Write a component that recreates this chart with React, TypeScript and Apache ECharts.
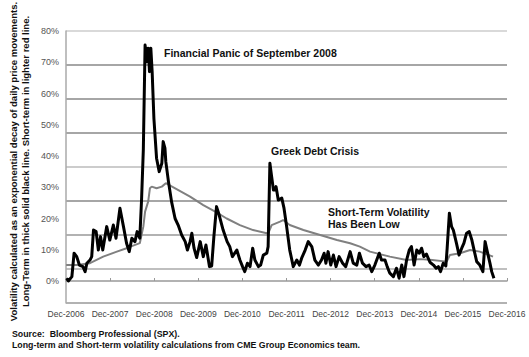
import React, { useEffect, useRef } from "react";
import * as echarts from "echarts";

// Short-term volatility (thick black line): decimal years, percent
const shortTermYears = [
  2006.93, 2006.97, 2007.05, 2007.10, 2007.16, 2007.22, 2007.30, 2007.35, 2007.39, 2007.46,
  2007.50, 2007.54, 2007.60, 2007.65, 2007.70, 2007.75, 2007.84, 2007.91, 2007.99, 2008.05,
  2008.14, 2008.22, 2008.29, 2008.35, 2008.41, 2008.48, 2008.53, 2008.59, 2008.63, 2008.67,
  2008.71, 2008.75, 2008.78, 2008.81, 2008.84, 2008.87, 2008.91, 2008.97, 2009.03, 2009.09,
  2009.12, 2009.16, 2009.18, 2009.24, 2009.31, 2009.39, 2009.46, 2009.54, 2009.62, 2009.67,
  2009.73, 2009.77, 2009.82, 2009.88, 2009.96, 2010.03, 2010.09, 2010.17, 2010.22, 2010.27,
  2010.33, 2010.39, 2010.48, 2010.57, 2010.63, 2010.69, 2010.79, 2010.86, 2010.92, 2010.97,
  2011.03, 2011.09, 2011.15, 2011.20, 2011.28, 2011.33, 2011.39, 2011.47, 2011.50, 2011.54,
  2011.58, 2011.62, 2011.66, 2011.68, 2011.73, 2011.81, 2011.86, 2011.92, 2011.99, 2012.07,
  2012.15, 2012.21, 2012.26, 2012.34, 2012.41, 2012.49, 2012.56, 2012.64, 2012.71, 2012.77,
  2012.81, 2012.86, 2012.92, 2012.98, 2013.04, 2013.11, 2013.19, 2013.26, 2013.36, 2013.43,
  2013.51, 2013.57, 2013.64, 2013.72, 2013.79, 2013.85, 2013.92, 2014.02, 2014.07, 2014.15,
  2014.20, 2014.26, 2014.34, 2014.41, 2014.47, 2014.53, 2014.58, 2014.64, 2014.70, 2014.75,
  2014.81, 2014.87, 2014.93, 2014.98, 2015.03, 2015.09, 2015.17, 2015.25, 2015.31, 2015.36,
  2015.41, 2015.47, 2015.53, 2015.56, 2015.61, 2015.66, 2015.70, 2015.77, 2015.83, 2015.89,
  2015.94, 2016.00, 2016.06, 2016.12, 2016.17, 2016.23, 2016.30, 2016.37, 2016.42, 2016.47,
  2016.53, 2016.57, 2016.62,
];
const shortTermValues = [
  0.9, 0.0, 1.4, 8.9, 7.8, 5.1, 4.6, 3.0, 5.7, 6.7,
  7.8, 16.3, 15.8, 9.9, 14.2, 9.9, 17.4, 13.1, 17.9, 13.7,
  23.3, 17.4, 12.1, 9.4, 13.7, 12.6, 15.8, 13.7, 26.0, 42.0,
  75.5, 70.2, 74.5, 67.0, 74.5, 67.0, 52.0, 39.3, 35.0, 37.7,
  44.6, 42.5, 38.2, 31.8, 25.4, 20.0, 17.9, 14.7, 12.6, 9.9,
  12.6, 15.3, 10.5, 7.5, 12.6, 7.8, 11.5, 4.6, 4.8, 14.2,
  23.8, 21.1, 16.3, 12.6, 11.0, 7.8, 9.9, 6.7, 4.6, 3.0,
  5.7, 4.6, 10.5, 6.7, 4.6, 5.1, 8.3, 8.9, 11.0, 37.7,
  33.4, 29.1, 29.1, 30.2, 25.9, 26.5, 23.3, 17.4, 9.9, 4.6,
  6.7, 5.1, 7.3, 9.9, 12.6, 11.0, 6.7, 5.1, 6.7, 8.9,
  5.7, 9.4, 5.1, 8.3, 4.6, 7.8, 5.7, 4.6, 9.4, 5.7,
  5.1, 8.9, 5.7, 4.6, 5.1, 3.0, 5.1, 8.9, 6.7, 6.7,
  4.6, 2.5, 1.4, 4.1, 0.9, 5.1, 1.4, 6.7, 9.9, 11.0,
  5.1, 9.9, 8.9, 10.5, 7.8, 8.6, 6.0, 5.1, 4.1, 4.6,
  3.0, 5.7, 4.8, 10.5, 21.7, 17.4, 16.3, 12.1, 8.3, 10.5,
  12.1, 15.3, 15.8, 13.1, 9.9, 6.2, 5.1, 3.0, 12.6, 9.4,
  5.7, 3.0, 0.9,
];

// Long-term volatility (lighter gray line)
const longTermYears = [
  2006.92, 2007.16, 2007.46, 2007.76, 2008.07, 2008.29, 2008.59, 2008.67, 2008.71, 2008.78,
  2008.82, 2008.86, 2008.97, 2009.09, 2009.18, 2009.26, 2009.73, 2009.96, 2010.03, 2010.30,
  2010.56, 2010.86, 2011.16, 2011.47, 2011.51, 2011.58, 2011.77, 2011.84, 2011.99, 2012.30,
  2012.68, 2013.06, 2013.36, 2013.58, 2013.81, 2014.26, 2014.64, 2014.94, 2015.17, 2015.55,
  2015.62, 2015.85, 2016.08, 2016.30, 2016.60,
];
const longTermValues = [
  5.1, 5.1, 5.7, 7.8, 9.4, 10.5, 12.1, 17.4, 22.2, 25.4,
  29.7, 30.2, 29.7, 30.2, 31.3, 30.7, 27.0, 24.9, 24.3, 22.2,
  20.0, 17.9, 16.3, 15.3, 15.5, 17.9, 19.0, 19.5, 17.9, 16.3,
  14.7, 13.1, 12.1, 11.0, 9.4, 7.8, 6.7, 7.0, 6.8, 6.2,
  8.3, 8.9, 9.9, 9.4, 7.8,
];

const yTickLabels = [0, 10, 20, 30, 40, 50, 60, 70, 80];
const xTickYears = [2006, 2007, 2008, 2009, 2010, 2011, 2012, 2013, 2014, 2015, 2016];

const DEC_2006 = 2006 + 11 / 12;

const yTitleLines = [
  "Volatility calculated as an exponential decay of daily price movements.",
  "Long-Term in thick solid black line. Short-term in lighter red line.",
];
const footerLines = [
  "Source:  Bloomberg Professional (SPX).",
  "Long-term and Short-term volatility calculations from CME Group Economics team.",
];
const annotations = [
  { text: "Financial Panic of September 2008", x: 164, y: 53 },
  { text: "Greek Debt Crisis", x: 271, y: 151 },
  { text: "Short-Term Volatility", x: 328, y: 212 },
  { text: "Has Been Low", x: 328, y: 224 },
];

const FONT = "'Liberation Sans', Arial, sans-serif";

export default function App() {
  const ref = useRef<HTMLDivElement>(null);
  useEffect(() => {
    if (!ref.current) return;
    document.body.style.margin = "0";
    const chart = echarts.init(ref.current, null, { renderer: "svg" });
    const toPts = (ys: number[], vs: number[]) => ys.map((y, i) => [y - DEC_2006, vs[i]]);
    chart.setOption({
      animation: false,
      backgroundColor: "#ffffff",
      grid: { left: 66, right: 22, top: 31, bottom: 54, containLabel: false },
      xAxis: {
        type: "value",
        min: 0,
        max: xTickYears.length - 1,
        interval: 1,
        axisLine: { show: true, lineStyle: { color: "#999", width: 1.5 } },
        axisTick: { show: true, length: 3, inside: true, lineStyle: { color: "#999" } },
        splitLine: { show: false },
        axisLabel: {
          color: "#444",
          fontFamily: FONT,
          fontSize: 8.5,
          margin: 6,
          formatter: (v: number) => "Dec-" + xTickYears[Math.round(v)],
        },
      },
      yAxis: [
        {
          type: "value",
          min: -7.04,
          max: 80,
          position: "left",
          axisLine: { show: true, lineStyle: { color: "#aaa", width: 1.5 } },
          axisTick: { show: false },
          splitLine: { show: false },
          axisLabel: {
            customValues: yTickLabels,
            color: "#555",
            fontFamily: FONT,
            fontSize: 9,
            margin: 7,
            formatter: (v: number) => Math.round(v) + "%",
          },
        },
        {
          type: "value",
          min: 0,
          max: 8,
          interval: 1,
          position: "left",
          axisLine: { show: false },
          axisTick: { show: false },
          axisLabel: { show: false },
          splitLine: {
            show: true,
            lineStyle: {
              width: 1.5,
              color: ["#999", "#aaa", "#999", "#888", "#bbb", "#888", "#888", "#888", "#ccc"],
            },
          },
        },
      ],
      series: [
        {
          type: "line",
          yAxisIndex: 0,
          data: toPts(longTermYears, longTermValues),
          showSymbol: false,
          lineStyle: { color: "#808080", width: 2 },
          z: 2,
        },
        {
          type: "line",
          yAxisIndex: 0,
          data: toPts(shortTermYears, shortTermValues),
          showSymbol: false,
          lineStyle: { color: "#000", width: 3, join: "round" },
          z: 3,
        },
      ],
      graphic: [
        ...annotations.map((a) => ({
          type: "text",
          x: a.x,
          y: a.y,
          z: 10,
          style: {
            text: a.text,
            font: "bold 10.5px " + FONT,
            fill: "#111",
            textAlign: "left",
            textVerticalAlign: "middle",
          },
        })),
        ...yTitleLines.map((t, i) => ({
          type: "text",
          x: 13 + i * 12.5,
          y: 161.5,
          rotation: Math.PI / 2,
          style: {
            text: t,
            font: "bold 9.5px " + FONT,
            fill: "#111",
            textAlign: "center",
            textVerticalAlign: "middle",
          },
        })),
        ...footerLines.map((t, i) => ({
          type: "text",
          x: 12,
          y: 334 + i * 10.5,
          style: {
            text: t,
            font: "bold 8.8px " + FONT,
            fill: "#111",
            textAlign: "left",
            textVerticalAlign: "middle",
          },
        })),
      ],
    });
    return () => chart.dispose();
  }, []);
  return (
    <div
      ref={ref}
      style={{ position: "fixed", left: 0, top: 0, width: 529, height: 357 }}
    />
  );
}
